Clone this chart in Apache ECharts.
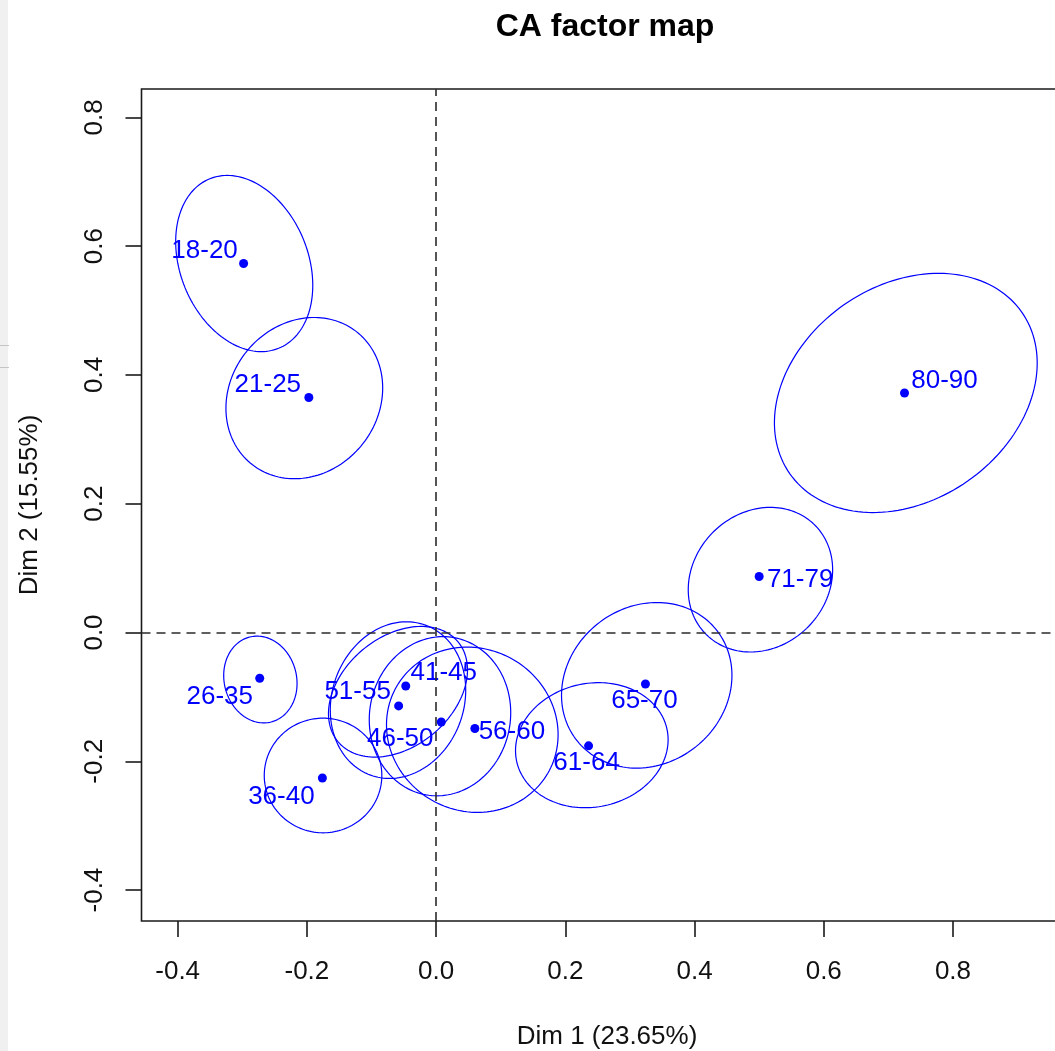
<!DOCTYPE html>
<html>
<head>
<meta charset="utf-8">
<script src="https://cdn.jsdelivr.net/npm/echarts@6/dist/echarts.min.js"></script>
<style>
  html, body { margin: 0; padding: 0; background: #ffffff; }
  #chart { width: 1055px; height: 1051px; }
</style>
</head>
<body>
<div id="chart"></div>
<script>
// Age groups (rows of the contingency table) and their coordinates on the first two CA dimensions
const ageGroups = ['18-20', '21-25', '26-35', '36-40', '41-45', '46-50', '51-55', '56-60', '61-64', '65-70', '71-79', '80-90'];
const dim1 = [-0.298, -0.197, -0.273, -0.176, -0.047, 0.008, -0.058, 0.060, 0.236, 0.324, 0.500, 0.725];
const dim2 = [0.573, 0.365, -0.071, -0.226, -0.083, -0.139, -0.114, -0.149, -0.176, -0.080, 0.087, 0.372];

// Confidence ellipses: centre, semi-axes and orientation of the major axis (degrees)
const ellCx    = [-0.297, -0.204, -0.272, -0.175, -0.059, 0.006, -0.059, 0.056, 0.241, 0.326, 0.502, 0.727];
const ellCy    = [0.573, 0.364, -0.073, -0.222, -0.092, -0.130, -0.105, -0.151, -0.175, -0.082, 0.082, 0.372];
const ellA     = [0.142, 0.131, 0.068, 0.091, 0.121, 0.124, 0.124, 0.135, 0.119, 0.138, 0.1195, 0.219];
const ellB     = [0.099, 0.115, 0.056, 0.089, 0.085, 0.109, 0.102, 0.126, 0.096, 0.122, 0.104, 0.167];
const ellAngle = [-68, 52, -76, 0, 40, 80, 70, -30, 12, 39, 46, 35];

// Axis ticks
const xTicks = [-0.4, -0.2, 0.0, 0.2, 0.4, 0.6, 0.8];
const yTicks = [-0.4, -0.2, 0.0, 0.2, 0.4, 0.6, 0.8];

// Label placement around each point, in pixels (label centre relative to the point)
const labelOffsets = [[-39, -13], [-41, -13], [-40, 19], [-41, 19], [38, -13], [-41, 17], [-41, -14], [37, 3], [-2, 17], [-1, 17], [41, 3], [40, -12]];

const FONT = "'Liberation Sans', Arial, sans-serif";
const BLUE = '#0000ff';

const chart = echarts.init(document.getElementById('chart'), null, { renderer: 'canvas' });

const ellipseData = ageGroups.map((g, i) => [ellCx[i], ellCy[i], ellA[i], ellB[i], ellAngle[i]]);
const pointData = ageGroups.map((g, i) => ({
  name: g,
  value: [dim1[i], dim2[i]],
  label: { offset: labelOffsets[i] }
}));

function renderEllipse(params, api) {
  const cx = api.value(0), cy = api.value(1);
  const a = api.value(2), b = api.value(3);
  const th = api.value(4) * Math.PI / 180;
  const pts = [];
  const n = 160;
  for (let k = 0; k <= n; k++) {
    const t = 2 * Math.PI * k / n;
    const ex = a * Math.cos(t), ey = b * Math.sin(t);
    pts.push(api.coord([cx + ex * Math.cos(th) - ey * Math.sin(th),
                        cy + ex * Math.sin(th) + ey * Math.cos(th)]));
  }
  return {
    type: 'polyline',
    shape: { points: pts },
    style: { fill: null, stroke: BLUE, lineWidth: 1.2 },
    silent: true
  };
}

const option = {
  backgroundColor: '#ffffff',
  animation: false,
  textStyle: { fontFamily: FONT },
  grid: {
    left: 141.5, top: 89, width: 931, height: 832,
    outerBoundsMode: 'none', containLabel: false,
    show: true, borderColor: '#1a1a1a', borderWidth: 1.6, backgroundColor: 'transparent'
  },
  xAxis: {
    type: 'value', min: -0.456, max: 0.985,
    splitLine: { show: false },
    axisLine: { show: false, onZero: false },
    axisTick: { show: true, length: 16, customValues: xTicks, lineStyle: { color: '#1a1a1a', width: 1.6 } },
    axisLabel: {
      customValues: xTicks, formatter: v => v.toFixed(1),
      fontSize: 26, color: '#111', fontFamily: FONT, margin: 51, verticalAlign: 'middle'
    },
    name: 'Dim 1 (23.65%)', nameLocation: 'middle', nameGap: 116,
    nameTextStyle: { fontSize: 26, color: '#111', fontFamily: FONT, verticalAlign: 'middle' }
  },
  yAxis: {
    type: 'value', min: -0.448, max: 0.844,
    splitLine: { show: false },
    axisLine: { show: false, onZero: false },
    axisTick: { show: true, length: 16, customValues: yTicks, lineStyle: { color: '#1a1a1a', width: 1.6 } },
    axisLabel: {
      customValues: yTicks, formatter: v => v.toFixed(1), rotate: 90,
      fontSize: 26, color: '#111', fontFamily: FONT, margin: 47, align: 'center', verticalAlign: 'middle'
    },
    name: 'Dim 2 (15.55%)', nameLocation: 'middle', nameGap: 112, nameRotate: 90,
    nameTextStyle: { fontSize: 26, color: '#111', fontFamily: FONT, verticalAlign: 'middle' }
  },
  graphic: [
    { type: 'rect', left: 0, top: 0, shape: { width: 8, height: 1051 }, style: { fill: '#f0f0f0' }, z: -1 },
    { type: 'line', shape: { x1: 0, y1: 345.5, x2: 9, y2: 345.5 }, style: { stroke: '#c4c4c4', lineWidth: 1 } },
    { type: 'line', shape: { x1: 0, y1: 367.5, x2: 9, y2: 367.5 }, style: { stroke: '#c4c4c4', lineWidth: 1 } },
    {
      type: 'text', x: 605, y: 27,
      style: { text: 'CA factor map', font: "bold 32px 'Liberation Sans', Arial, sans-serif", fill: '#000', textAlign: 'center', textVerticalAlign: 'middle' }
    }
  ],
  series: [
    {
      type: 'custom',
      renderItem: renderEllipse,
      data: ellipseData,
      encode: { x: 0, y: 1 },
      z: 2,
      silent: true
    },
    {
      type: 'scatter',
      data: pointData,
      symbol: 'circle',
      symbolSize: 9,
      itemStyle: { color: BLUE, opacity: 1 },
      z: 3,
      silent: true,
      label: {
        show: true, position: 'inside', formatter: p => p.name,
        color: BLUE, fontSize: 26, fontFamily: FONT, align: 'center', verticalAlign: 'middle'
      },
      markLine: {
        silent: true, symbol: 'none', animation: false,
        label: { show: false },
        lineStyle: { type: [9, 6], color: '#2b2b2b', width: 1.6, opacity: 1 },
        data: [{ xAxis: 0 }, { yAxis: 0 }]
      }
    }
  ]
};

chart.setOption(option);
</script>
</body>
</html>
